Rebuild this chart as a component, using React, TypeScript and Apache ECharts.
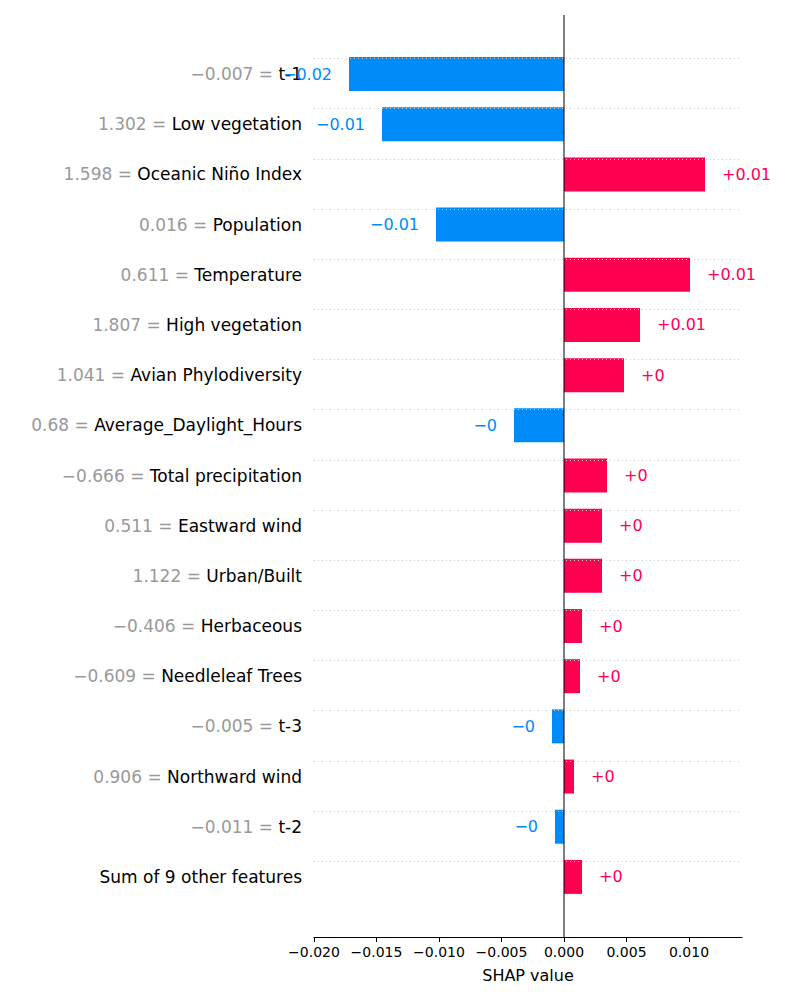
import { useEffect, useRef } from 'react';
import * as echarts from 'echarts';

const features = [
  't-1', 'Low vegetation', 'Oceanic Niño Index', 'Population', 'Temperature',
  'High vegetation', 'Avian Phylodiversity', 'Average_Daylight_Hours', 'Total precipitation',
  'Eastward wind', 'Urban/Built', 'Herbaceous', 'Needleleaf Trees', 't-3',
  'Northward wind', 't-2', 'Sum of 9 other features',
];
const featureValues = [
  '\u22120.007', '1.302', '1.598', '0.016', '0.611', '1.807', '1.041', '0.68', '\u22120.666',
  '0.511', '1.122', '\u22120.406', '\u22120.609', '\u22120.005', '0.906', '\u22120.011', '',
];
const shapValues = [
  -0.0172, -0.01456, 0.01128, -0.01024, 0.01008, 0.00608, 0.0048, -0.004, 0.00344,
  0.00304, 0.00304, 0.00144, 0.00128, -0.00096, 0.0008, -0.00072, 0.00144,
];
const xTicks = { min: -0.02, max: 0.01424, interval: 0.005 };

const RED = '#ff0051';
const BLUE = '#008bfb';

const fmt = (v: number) => {
  const r = Math.abs(Math.round(v * 100) / 100);
  return (v >= 0 ? '+' : '\u2212') + String(r);
};

const App = () => {
  const ref = useRef<HTMLDivElement | null>(null);

  useEffect(() => {
    if (!ref.current) return;
    const chart = echarts.init(ref.current, null, { renderer: 'svg' });
    chart.setOption({
      animation: false,
      textStyle: { fontFamily: 'DejaVu Sans' },
      grid: { left: 314, right: 58, top: 49, bottom: 98 },
      xAxis: {
        type: 'value',
        min: xTicks.min,
        max: xTicks.max,
        interval: xTicks.interval,
        offset: 35,
        name: 'SHAP value',
        nameLocation: 'middle',
        nameGap: 30,
        nameTextStyle: { color: '#000', fontSize: 16 },
        axisLine: { show: true, lineStyle: { color: '#000' } },
        axisTick: { show: true, length: 5, lineStyle: { color: '#000' } },
        axisLabel: {
          color: '#000', fontSize: 14, showMaxLabel: false,
          formatter: (v: number) => (v < 0 ? '\u2212' : '') + Math.abs(v).toFixed(3),
        },
        splitLine: { show: false },
      },
      yAxis: {
        type: 'category',
        inverse: true,
        data: features,
        axisLine: { show: false },
        axisTick: { show: false },
        axisLabel: {
          margin: 12,
          formatter: (name: string, i: number) =>
            featureValues[i] ? `{v|${featureValues[i]} = }{n|${name}}` : `{n|${name}}`,
          rich: {
            v: { color: '#999999', fontSize: 17, fontFamily: 'DejaVu Sans' },
            n: { color: '#000', fontSize: 17, fontFamily: 'DejaVu Sans' },
          },
        },
      },
      series: [
        {
          type: 'bar',
          z: 1,
          data: [],
          markLine: {
            symbol: 'none',
            silent: true,
            label: { show: false },
            lineStyle: { color: '#cccccc', type: [1, 3], width: 1 },
            data: features.map((f) => ({ yAxis: f })),
          },
        },
        {
          type: 'bar',
          z: 3,
          barWidth: 34,
          barGap: '-100%',
          data: shapValues.map((v) => ({
            value: v,
            itemStyle: { color: v >= 0 ? RED : BLUE },
            label: {
              show: true,
              position: v >= 0 ? 'right' : 'left',
              distance: 17,
              color: v >= 0 ? RED : BLUE,
              fontSize: 16,
              formatter: () => fmt(v),
            },
          })),
        },
      ],
    });
    const x0 = chart.convertToPixel({ xAxisIndex: 0 }, 0) as number;
    chart.setOption({
      graphic: [{
        type: 'line', z: 10,
        shape: { x1: x0, y1: 15, x2: x0, y2: 937 },
        style: { stroke: '#000', lineWidth: 1 },
      }],
    });
    return () => chart.dispose();
  }, []);

  return <div ref={ref} style={{ position: 'absolute', left: 0, top: 0, width: '800px', height: '1000px' }} />;
};

export default App;
